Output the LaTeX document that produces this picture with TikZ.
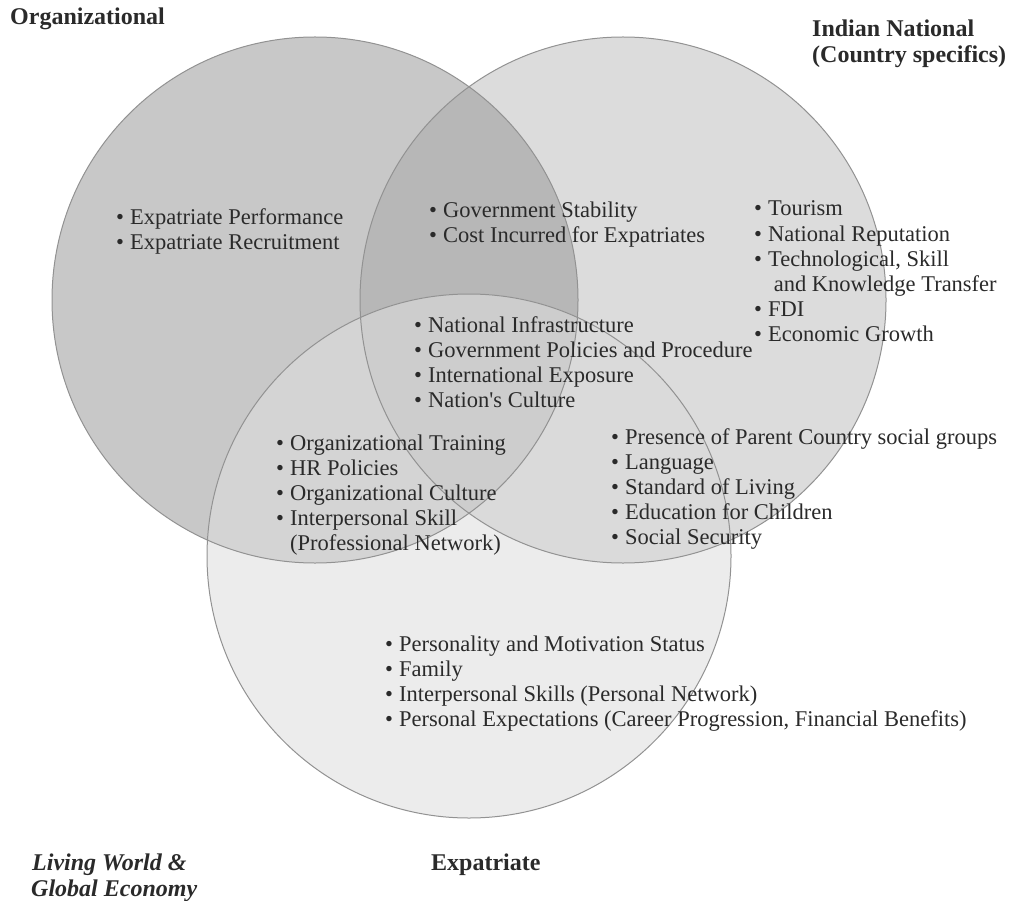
\documentclass[tikz,border=0pt]{standalone}
\usepackage{fontspec}
\setmainfont{Liberation Serif}
\definecolor{cOrg}{HTML}{C8C8C8}
\definecolor{cInd}{HTML}{DCDCDC}
\definecolor{cExp}{HTML}{ECECEC}
\definecolor{cOI}{HTML}{B7B7B7}
\definecolor{cOE}{HTML}{D4D4D4}
\definecolor{cIE}{HTML}{DADADA}
\definecolor{cOIE}{HTML}{CDCDCD}
\definecolor{edgegray}{HTML}{929292}
\definecolor{ink}{HTML}{2A2A2A}
\newcommand{\bul}{\makebox[14pt][l]{\raisebox{0pt}{•}}}
\newcommand{\nobul}{\makebox[14pt][l]{}}
\tikzset{
  item/.style={anchor=base west, inner sep=0pt, text=ink, font=\fontsize{22.5}{25}\selectfont},
  heading/.style={anchor=base west, inner sep=0pt, text=ink, font=\fontsize{24}{26}\selectfont\bfseries},
  headingit/.style={anchor=base west, inner sep=0pt, text=ink, font=\fontsize{24}{26}\selectfont\bfseries\itshape},
  rim/.style={draw=edgegray, line width=1pt}
}
\begin{document}
\begin{tikzpicture}[x=1pt,y=-1pt]
\useasboundingbox (0,0) rectangle (1011,901);
\coordinate (cO) at (315,300);
\coordinate (cI) at (623,300);
\coordinate (cE) at (469,556);
\def\rO{263pt}
\def\rI{263pt}
\def\rE{262pt}
% region fills
\fill[cOrg] (cO) circle[radius=\rO];
\fill[cInd] (cI) circle[radius=\rI];
\begin{scope}
  \clip (cO) circle[radius=\rO];
  \fill[cOI] (cI) circle[radius=\rI];
\end{scope}
\fill[cExp] (cE) circle[radius=\rE];
\begin{scope}
  \clip (cE) circle[radius=\rE];
  \fill[cOE] (cO) circle[radius=\rO];
  \fill[cIE] (cI) circle[radius=\rI];
  \clip (cO) circle[radius=\rO];
  \fill[cOIE] (cI) circle[radius=\rI];
\end{scope}
% outlines
\draw[rim] (cO) circle[radius=\rO];
\draw[rim] (cI) circle[radius=\rI];
\draw[rim] (cE) circle[radius=\rE];
% headings
\node[heading] (hOrg) at (10,25) {Organizational};
\node[heading] (hInd1) at (812,37) {Indian National};
\node[heading] (hInd2) at (812,63) {(Country specifics)};
\node[headingit] (hLw1) at (32,870) {Living World \&};
\node[headingit] (hLw2) at (31,896) {Global Economy};
\node[heading] (hExp) at (431,870) {Expatriate};
% Organizational only
\foreach \t [count=\i] in {Expatriate Performance, Expatriate Recruitment}
  \node[item] (o\i) at (116,{225+25*(\i-1)}) {\bul\t};
% Organizational and Indian
\foreach \t [count=\i] in {Government Stability, Cost Incurred for Expatriates}
  \node[item] (oi\i) at (429,{218+25*(\i-1)}) {\bul\t};
% Indian only
\foreach \t [count=\i] in {Tourism, National Reputation, {Technological, Skill}}
  \node[item] (in\i) at (754,{216+25*(\i-1)}) {\bul\t};
\node[item] (in4) at (754,291) {\nobul\ and Knowledge Transfer};
\node[item] (in5) at (754,316) {\bul FDI};
\node[item] (in6) at (754,341) {\bul Economic Growth};
% all three
\foreach \t [count=\i] in {National Infrastructure, Government Policies and Procedure, International Exposure, Nation\textquotesingle s Culture}
  \node[item] (oie\i) at (414,{332+25*(\i-1)}) {\bul\t};
% Organizational and Expatriate
\foreach \t [count=\i] in {Organizational Training, HR Policies, Organizational Culture, Interpersonal Skill}
  \node[item] (oe\i) at (276,{450+25*(\i-1)}) {\bul\t};
\node[item] (oe5) at (276,550) {\nobul(Professional Network)};
% Indian and Expatriate
\foreach \t [count=\i] in {Presence of Parent Country social groups, Language, Standard of Living, Education for Children, Social Security}
  \node[item] (ie\i) at (611,{444+25*(\i-1)}) {\bul\t};
% Expatriate only
\foreach \t [count=\i] in {Personality and Motivation Status, Family, Interpersonal Skills (Personal Network), {Personal Expectations (Career Progression, Financial Benefits)}}
  \node[item] (e\i) at (385,{651+25*(\i-1)}) {\bul\t};
\end{tikzpicture}
\end{document}
